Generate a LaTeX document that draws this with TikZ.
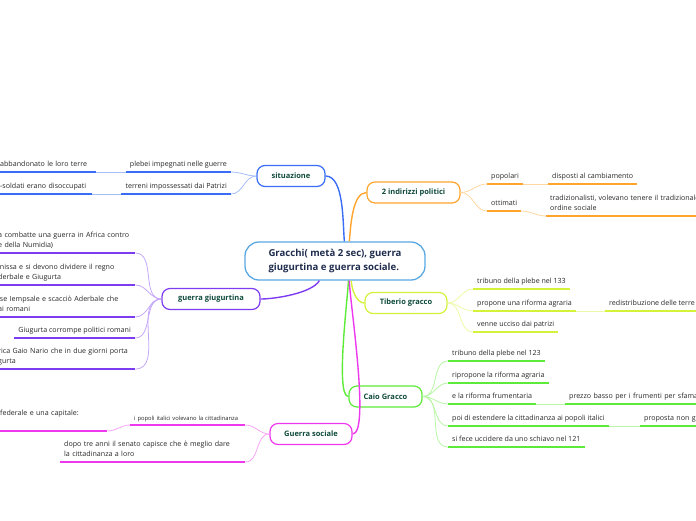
\documentclass[tikz,border=0pt]{standalone}
\usepackage{fontspec}
\setmainfont{Open Sans}
\usepackage{xcolor}
\usetikzlibrary{positioning,calc}
\definecolor{sitcolor}{HTML}{3A6DF5}
\definecolor{indcolor}{HTML}{FFA52E}
\definecolor{giucolor}{HTML}{7E3CF2}
\definecolor{tibcolor}{HTML}{D4F23A}
\definecolor{caicolor}{HTML}{5CEB38}
\definecolor{soccolor}{HTML}{EE38EE}
\definecolor{rootcolor}{HTML}{5AA8E2}
\definecolor{topictext}{HTML}{0E4A3A}
\definecolor{roottext}{HTML}{1F2C4E}
\tikzset{
  root node/.style={
    draw=rootcolor,
    line width=1.3pt,
    rounded corners=14pt,
    fill=white,
    minimum width=180pt,
    minimum height=38pt,
    align=left,
    text=roottext,
    font=\fontsize{9.6}{14}\selectfont\bfseries
  },
  topic/.style={
    draw=#1,
    line width=1.2pt,
    rounded corners=8pt,
    fill=white,
    minimum height=21pt,
    text=topictext,
    font=\fontsize{7.5}{9}\selectfont\bfseries
  },
  leaf/.style={
    inner xsep=4pt,
    inner ysep=2pt,
    align=left,
    text=black!85,
    font=\fontsize{7.1}{10}\selectfont,
    execute at end node=\strut
  },
  uline/.style={draw=#1, line width=1.8pt},
  link/.style={draw=#1!45, line width=0.8pt},
  branch/.style={draw=#1, line width=1.4pt}
}

\begin{document}
\begin{tikzpicture}[x=1pt, y=1pt]
  \useasboundingbox (0,0) rectangle (696,-520);

  % Root and topics
  \node[root node] (root) at (335,-261) {Gracchi( metà 2 sec), guerra\\giugurtina e guerra sociale.};
  \node[topic=sitcolor, minimum width=68pt] (sit) at (291,-176) {situazione};
  \node[topic=indcolor, minimum width=93pt] (ind) at (413.5,-192.5) {2 indirizzi politici};
  \node[topic=giucolor, minimum width=98pt] (giu) at (211,-299) {guerra giugurtina};
  \node[topic=tibcolor, minimum width=82pt] (tib) at (406,-303) {Tiberio gracco};
  \node[topic=caicolor, minimum width=73pt] (cai) at (385.5,-396.5) {Caio Gracco};
  \node[topic=soccolor, minimum width=82pt] (soc) at (311,-434) {Guerra sociale};

  % Branches
  \draw[branch=sitcolor] ([xshift=100pt]root.north west) to[out=95,in=0,looseness=0.7] (sit.east);
  \draw[branch=indcolor] ([xshift=105pt]root.north west) to[out=85,in=180,looseness=0.7] (ind.west);
  \draw[branch=giucolor] ([xshift=75pt]root.south west) to[out=-120,in=0,looseness=0.6] (giu.east);
  \draw[branch=tibcolor] ([xshift=107pt]root.south west) to[out=-90,in=180,looseness=0.8] (tib.west);
  \draw[branch=caicolor] ([xshift=104pt]root.south west) to[out=-90,in=180,looseness=0.3] (cai.west);
  \draw[branch=soccolor] ([xshift=105pt]root.south west) to[out=-90,in=0,looseness=0.3] (soc.east);

  % situazione
  \node[leaf, anchor=south east] (plebei) at (231,-172) {plebei impegnati nelle guerre};
  \node[leaf, anchor=south east] (terreni) at (231,-194) {terreni impossessati dai Patrizi};
  \node[leaf, anchor=south west, text width=92pt] (terre) at (-4,-172) {abbandonato le loro terre};
  \node[leaf, anchor=south west, text width=88pt] (soldati) at (-4,-194) {-soldati erano disoccupati};
  \draw[link=sitcolor] (sit.west) to[out=180,in=0] (plebei.south east);
  \draw[link=sitcolor] (sit.west) to[out=180,in=0] (terreni.south east);
  \draw[link=sitcolor] (plebei.south west) -- (terre.south east);
  \draw[link=sitcolor] (terreni.south west) -- (soldati.south east);
  \draw[uline=sitcolor] (plebei.south west) -- (plebei.south east);
  \draw[uline=sitcolor] (terreni.south west) -- (terreni.south east);
  \draw[uline=sitcolor] (terre.south west) -- (terre.south east);
  \draw[uline=sitcolor] (soldati.south west) -- (soldati.south east);

  % 2 indirizzi politici
  \node[leaf, anchor=south west] (popolari) at (487,-184) {popolari};
  \node[leaf, anchor=south west] (ottimati) at (487,-211) {ottimati};
  \node[leaf, anchor=south west] (disposti) at (548,-184) {disposti al cambiamento};
  \node[leaf, anchor=south west, text width=170pt] (tradiz) at (546,-216) {tradizionalisti, volevano tenere il tradizionale\\ordine sociale};
  \draw[link=indcolor] (ind.east) to[out=0,in=180] (popolari.south west);
  \draw[link=indcolor] (ind.east) to[out=0,in=180] (ottimati.south west);
  \draw[link=indcolor] (popolari.south east) -- (disposti.south west);
  \draw[link=indcolor] (ottimati.south east) to[out=0,in=180] (tradiz.south west);
  \draw[uline=indcolor] (popolari.south west) -- (popolari.south east);
  \draw[uline=indcolor] (ottimati.south west) -- (ottimati.south east);
  \draw[uline=indcolor] (disposti.south west) -- (disposti.south east);
  \draw[uline=indcolor] (tradiz.south west) -- (tradiz.south east);

  % guerra giugurtina
  \node[leaf, anchor=south west, text width=133pt] (numid) at (-6,-253) {a combatte una guerra in Africa contro\\e della Numidia)};
  \node[leaf, anchor=south west, text width=133pt] (regno) at (-6,-285) {inissa e si devono dividere il regno\\derbale e Giugurta};
  \node[leaf, anchor=south west, text width=133pt] (iemps) at (-6,-317) {ise Iempsale e scacciò Aderbale che\\ai romani};
  \node[leaf, anchor=south east] (corr) at (135,-338) {Giugurta corrompe politici romani};
  \node[leaf, anchor=south west, text width=133pt] (nario) at (-6,-369) {rica Gaio Nario che in due giorni porta\\gurta};
  \draw[link=giucolor] (giu.west) to[out=180,in=0] (numid.south east);
  \draw[link=giucolor] (giu.west) to[out=180,in=0] (regno.south east);
  \draw[link=giucolor] (giu.west) to[out=180,in=0] (iemps.south east);
  \draw[link=giucolor] (giu.west) to[out=180,in=0] (corr.south east);
  \draw[link=giucolor] (giu.west) to[out=180,in=0] (nario.south east);
  \draw[uline=giucolor] (numid.south west) -- (numid.south east);
  \draw[uline=giucolor] (regno.south west) -- (regno.south east);
  \draw[uline=giucolor] (iemps.south west) -- (iemps.south east);
  \draw[uline=giucolor] (corr.south west) -- (corr.south east);
  \draw[uline=giucolor] (nario.south west) -- (nario.south east);

  % Tiberio gracco
  \node[leaf, anchor=south west] (trib133) at (473,-289) {tribuno della plebe nel 133};
  \node[leaf, anchor=south west] (agraria) at (473,-311) {propone una riforma agraria};
  \node[leaf, anchor=south west] (ucciso) at (473,-332) {venne ucciso dai patrizi};
  \node[leaf, anchor=south west] (redist) at (605,-311) {redistribuzione delle terre};
  \draw[link=tibcolor] (tib.east) to[out=0,in=180] (trib133.south west);
  \draw[link=tibcolor] (tib.east) to[out=0,in=180] (agraria.south west);
  \draw[link=tibcolor] (tib.east) to[out=0,in=180] (ucciso.south west);
  \draw[link=tibcolor] (agraria.south east) -- (redist.south west);
  \draw[uline=tibcolor] (trib133.south west) -- (trib133.south east);
  \draw[uline=tibcolor] (agraria.south west) -- (agraria.south east);
  \draw[uline=tibcolor] (ucciso.south west) -- (ucciso.south east);
  \draw[uline=tibcolor] (redist.south west) -- (redist.south east);

  % Caio Gracco
  \node[leaf, anchor=south west] (trib123) at (448,-361) {tribuno della plebe nel 123};
  \node[leaf, anchor=south west] (ripropone) at (448,-383) {ripropone la riforma agraria};
  \node[leaf, anchor=south west] (frument) at (448,-404) {e la riforma frumentaria};
  \node[leaf, anchor=south west] (italici) at (448,-426) {poi di estendere la cittadinanza ai popoli italici};
  \node[leaf, anchor=south west] (schiavo) at (448,-447) {si fece uccidere da uno schiavo nel 121};
  \node[leaf, anchor=south west, text width=140pt] (prezzo) at (565,-404) {prezzo basso per i frumenti per sfamare};
  \node[leaf, anchor=south west, text width=60pt] (proposta) at (640,-426) {proposta non g};
  \draw[link=caicolor] (cai.east) to[out=0,in=180] (trib123.south west);
  \draw[link=caicolor] (cai.east) to[out=0,in=180] (ripropone.south west);
  \draw[link=caicolor] (cai.east) to[out=0,in=180] (frument.south west);
  \draw[link=caicolor] (cai.east) to[out=0,in=180] (italici.south west);
  \draw[link=caicolor] (cai.east) to[out=0,in=180] (schiavo.south west);
  \draw[link=caicolor] (frument.south east) -- (prezzo.south west);
  \draw[link=caicolor] (italici.south east) -- (proposta.south west);
  \draw[uline=caicolor] (trib123.south west) -- (trib123.south east);
  \draw[uline=caicolor] (ripropone.south west) -- (ripropone.south east);
  \draw[uline=caicolor] (frument.south west) -- (frument.south east);
  \draw[uline=caicolor] (italici.south west) -- (italici.south east);
  \draw[uline=caicolor] (schiavo.south west) -- (schiavo.south east);
  \draw[uline=caicolor] (prezzo.south west) -- (prezzo.south east);
  \draw[uline=caicolor] (proposta.south west) -- (proposta.south east);

  % Guerra sociale
  \node[leaf, anchor=south west, text width=107pt, font=\fontsize{5.8}{7}\selectfont] (volevano) at (130,-425) {i popoli italici volevano la cittadinanza};
  \node[leaf, anchor=south west, text width=103pt] (capitale) at (-4,-431) {federale e una capitale:\\\mbox{}};
  \node[leaf, anchor=south west, text width=177pt] (senato) at (60,-462) {dopo tre anni il senato capisce che è meglio dare\\la cittadinanza a loro};
  \draw[link=soccolor] (soc.west) to[out=180,in=0] (volevano.south east);
  \draw[link=soccolor] (soc.west) to[out=180,in=0] (senato.south east);
  \draw[link=soccolor] (volevano.south west) to[out=180,in=0] (capitale.south east);
  \draw[uline=soccolor] (volevano.south west) -- (volevano.south east);
  \draw[uline=soccolor] (capitale.south west) -- (capitale.south east);
  \draw[uline=soccolor] (senato.south west) -- (senato.south east);

\end{tikzpicture}
\end{document}
